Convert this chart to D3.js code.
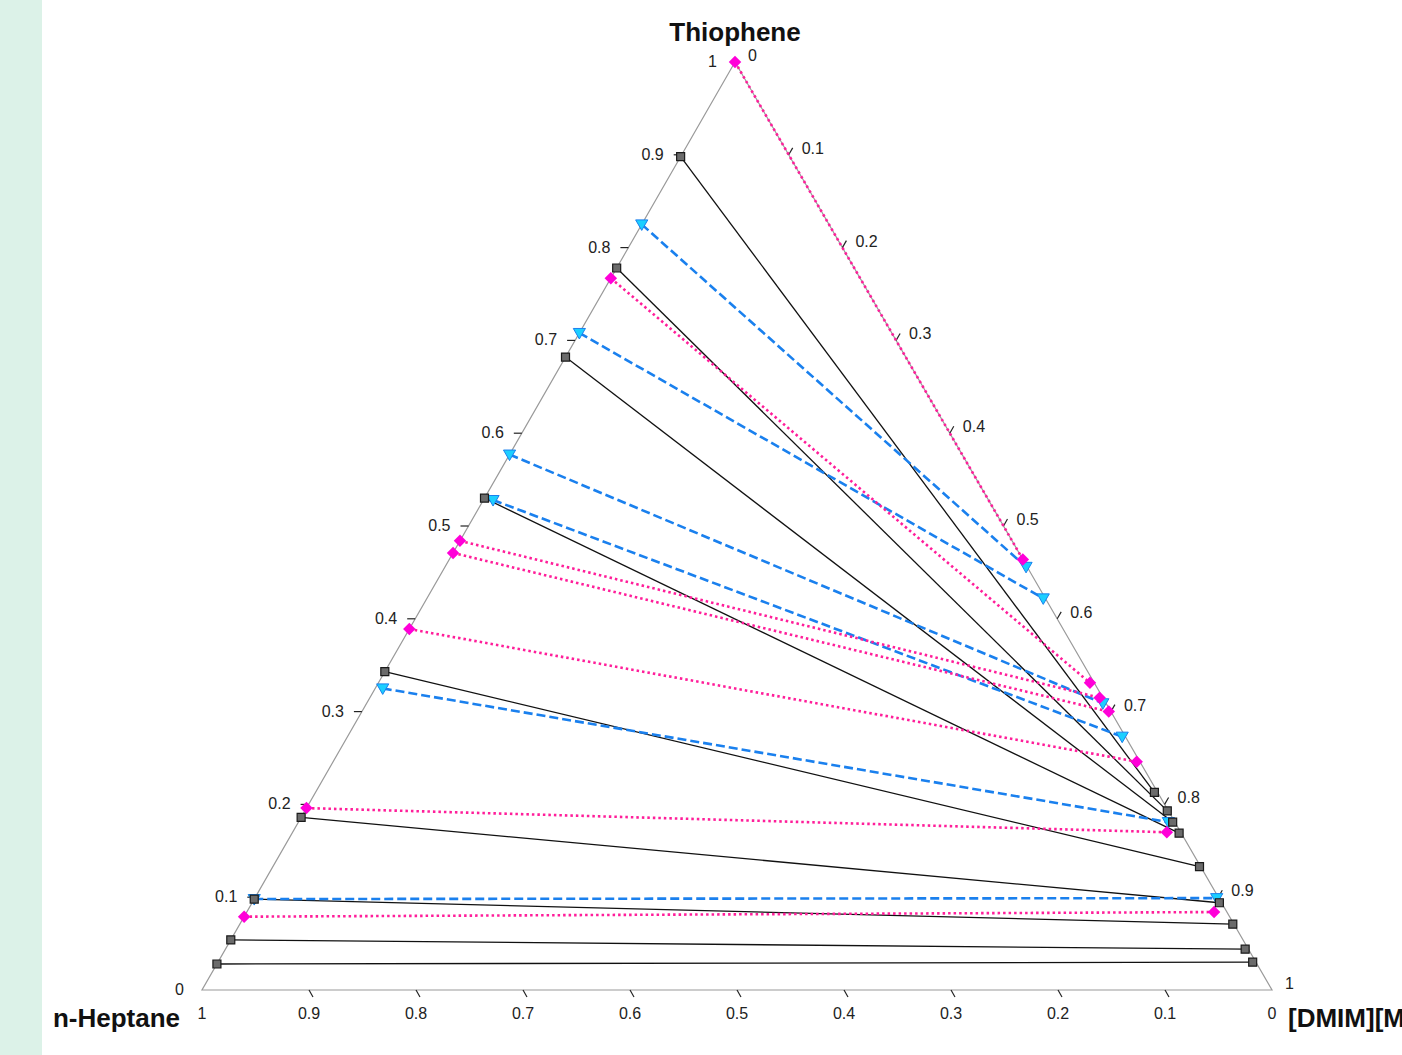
<!DOCTYPE html>
<html>
<head>
<meta charset="utf-8">
<script src="https://cdn.jsdelivr.net/npm/d3@7"></script>
<style>
  html, body { margin: 0; padding: 0; background: #ffffff; overflow: hidden; }
  svg { display: block; font-family: "Liberation Sans", Arial, sans-serif; }
</style>
</head>
<body>
<svg id="chart" width="1402" height="1055"></svg>
<script>
// ---------------- DATA ----------------
// Axis titles
const titleTop = "Thiophene";
const titleLeft = "n-Heptane";
const titleRight = "[DMIM][MPO4]";

// tick values and labels (same on each of the three axes)
const tickValues = [0, 0.1, 0.2, 0.3, 0.4, 0.5, 0.6, 0.7, 0.8, 0.9, 1];
const tickLabels = ["0", "0.1", "0.2", "0.3", "0.4", "0.5", "0.6", "0.7", "0.8", "0.9", "1"];

// Series 1 (black squares, solid tie-lines): mole fractions
const s1RafThio = [0.898, 0.778, 0.682, 0.530, 0.343, 0.186, 0.098, 0.054, 0.028];
const s1RafIL   = [0, 0, 0, 0, 0, 0, 0, 0, 0];
const s1ExtThio = [0.213, 0.193, 0.181, 0.169, 0.133, 0.094, 0.071, 0.044, 0.030];
const s1ExtIL   = [0.784, 0.806, 0.817, 0.829, 0.866, 0.904, 0.928, 0.953, 0.967];

// Series 2 (magenta diamonds, dotted tie-lines)
const s2RafThio = [1.000, 0.767, 0.484, 0.471, 0.389, 0.196, 0.079];
const s2RafIL   = [0, 0, 0, 0, 0, 0, 0];
const s2ExtThio = [0.464, 0.331, 0.315, 0.300, 0.246, 0.170, 0.084];
const s2ExtIL   = [0.536, 0.665, 0.682, 0.698, 0.751, 0.817, 0.904];

// Series 3 (cyan triangles, dashed tie-lines)
const s3RafThio = [0.825, 0.708, 0.577, 0.528, 0.325, 0.098];
const s3RafIL   = [0, 0, 0, 0.009, 0.007, 0];
const s3ExtThio = [0.456, 0.422, 0.309, 0.273, 0.181, 0.099];
const s3ExtIL   = [0.543, 0.576, 0.688, 0.724, 0.813, 0.899];

// ---------------- LAYOUT ----------------
const W = 1402, H = 1055;
const svg = d3.select("#chart");
const vH = {x: 202, y: 990};   // n-Heptane vertex
const vD = {x: 1272, y: 990};  // IL vertex
const vT = {x: 735, y: 62};    // Thiophene vertex
const skew = (vT.x - vH.x) / (vD.x - vH.x);

const xs = d3.scaleLinear().domain([0, 1]).range([vH.x, vD.x]);
const ys = d3.scaleLinear().domain([0, 1]).range([vH.y, vT.y]);
// t = thiophene fraction, d = IL fraction
const px = (t, d) => xs(d + t * skew);
const py = (t) => ys(t);

// left panel
svg.append("rect").attr("x", 0).attr("y", 0).attr("width", 42).attr("height", H)
  .attr("fill", "#dcf2e8");

// triangle frame
const frame = svg.append("g");
frame.append("path")
  .attr("d", d3.line()([[px(1,0), py(1)], [px(0,0), py(0)], [px(0,1), py(0)], [px(1,0), py(1)]]))
  .attr("fill", "none").attr("stroke", "#9a9a9a").attr("stroke-width", 1.2);

// ticks
const tickLen = 8;
const gT = svg.append("g").attr("font-size", 16).attr("fill", "#222");
tickValues.forEach((v, i) => {
  // left axis: thiophene fraction, on H-T edge (d = 0)
  const lx = px(v, 0), ly = py(v);
  if (v > 0 && v < 1) {
    gT.append("line").attr("x1", lx - tickLen).attr("y1", ly).attr("x2", lx).attr("y2", ly)
      .attr("stroke", "#222").attr("stroke-width", 1.2);
  }
  gT.append("text").attr("x", lx - 18).attr("y", ly + 5).attr("text-anchor", "end").text(tickLabels[i]);

  // bottom axis: heptane fraction, on H-D edge (t = 0), d = 1 - v
  const bx = px(0, 1 - v), by = py(0);
  if (v > 0 && v < 1) {
    gT.append("line").attr("x1", bx).attr("y1", by).attr("x2", bx + tickLen * 0.5).attr("y2", by + tickLen * 0.866)
      .attr("stroke", "#222").attr("stroke-width", 1.2);
  }
  gT.append("text").attr("x", bx).attr("y", by + 29).attr("text-anchor", "middle").text(tickLabels[i]);

  // right axis: IL fraction, on T-D edge (h = 0), t = 1 - v
  const rx = px(1 - v, v), ry = py(1 - v);
  if (v > 0 && v < 1) {
    gT.append("line").attr("x1", rx).attr("y1", ry).attr("x2", rx + tickLen * 0.5).attr("y2", ry - tickLen * 0.866)
      .attr("stroke", "#222").attr("stroke-width", 1.2);
  }
  gT.append("text").attr("x", rx + 13).attr("y", ry - 1).attr("text-anchor", "start").text(tickLabels[i]);
});

// titles
const gTitle = svg.append("g").attr("font-size", 26).attr("font-weight", "bold").attr("fill", "#111");
gTitle.append("text").attr("x", px(1,0)).attr("y", 41).attr("text-anchor", "middle").text(titleTop);
gTitle.append("text").attr("x", 180).attr("y", 1027).attr("text-anchor", "end").text(titleLeft);
gTitle.append("text").attr("x", 1288).attr("y", 1027).attr("text-anchor", "start").text(titleRight);

// build tie-line records
function ties(rT, rD, eT, eD) {
  return rT.map((_, i) => ({a: [px(rT[i], rD[i]), py(rT[i])], b: [px(eT[i], eD[i]), py(eT[i])]}));
}
const s1 = ties(s1RafThio, s1RafIL, s1ExtThio, s1ExtIL);
const s2 = ties(s2RafThio, s2RafIL, s2ExtThio, s2ExtIL);
const s3 = ties(s3RafThio, s3RafIL, s3ExtThio, s3ExtIL);

const line = d3.line();
// lines
svg.append("g").selectAll("path").data(s1).join("path")
  .attr("d", d => line([d.a, d.b])).attr("fill", "none")
  .attr("stroke", "#111").attr("stroke-width", 1.3);
svg.append("g").selectAll("path").data(s3).join("path")
  .attr("d", d => line([d.a, d.b])).attr("fill", "none")
  .attr("stroke", "#1a80ee").attr("stroke-width", 2.6).attr("stroke-dasharray", "9,4");
svg.append("g").selectAll("path").data(s2).join("path")
  .attr("d", d => line([d.a, d.b])).attr("fill", "none")
  .attr("stroke", "#ff1e9a").attr("stroke-width", 2.6).attr("stroke-dasharray", "2.5,3");

// markers
const pts = s => s.flatMap(d => [d.a, d.b]);
const triSym = d3.symbol().type(d3.symbolTriangle).size(64);
svg.append("g").selectAll("path").data(pts(s3)).join("path")
  .attr("d", triSym).attr("transform", d => `translate(${d[0]},${d[1] - 1}) rotate(180)`)
  .attr("fill", "#1ccfff").attr("stroke", "#1a80ee").attr("stroke-width", 1);
const diaSym = d3.symbol().type(d3.symbolSquare).size(78);
svg.append("g").selectAll("path").data(pts(s2)).join("path")
  .attr("d", diaSym).attr("transform", d => `translate(${d[0]},${d[1]}) rotate(45)`)
  .attr("fill", "#ff00d8");
const sqSym = d3.symbol().type(d3.symbolSquare).size(64);
svg.append("g").selectAll("path").data(pts(s1)).join("path")
  .attr("d", sqSym).attr("transform", d => `translate(${d[0]},${d[1]})`)
  .attr("fill", "#6b6b6b").attr("stroke", "#1a1a1a").attr("stroke-width", 1.2);
</script>
</body>
</html>
